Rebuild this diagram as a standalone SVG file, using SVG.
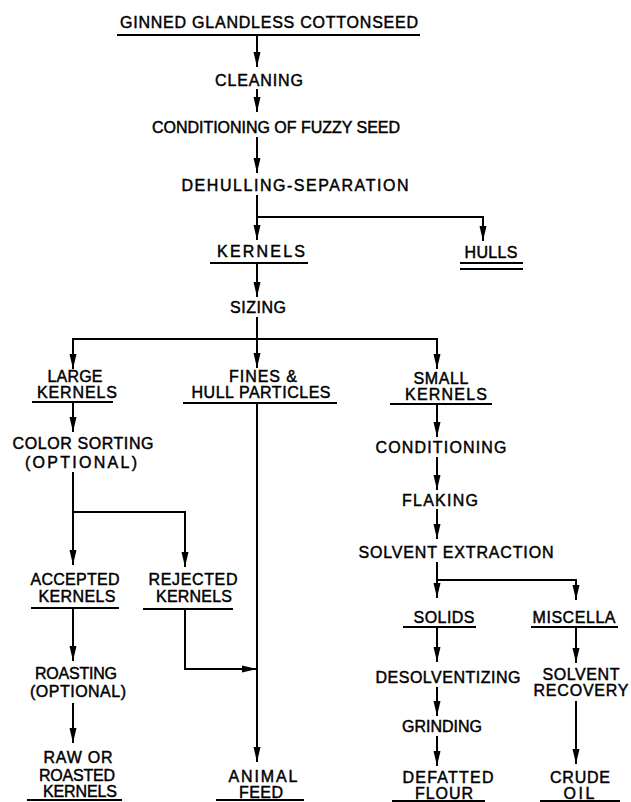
<svg xmlns="http://www.w3.org/2000/svg" width="631" height="802" viewBox="0 0 631 802">
<defs>
<marker id="ah" markerUnits="userSpaceOnUse" markerWidth="16" markerHeight="8" viewBox="0 -4 16 8" refX="15" refY="0" orient="auto">
<path d="M0,-3.5 L15,0 L0,3.5 Z" fill="#000"/>
</marker>
</defs>
<style>
text{font-family:"Liberation Sans",Arial,sans-serif;font-size:16px;fill:#000;stroke:#000;stroke-width:0.45;text-anchor:middle}
.ul{stroke:#000;stroke-width:2;fill:none}
.c path{stroke:#000;stroke-width:2;fill:none}
.a{marker-end:url(#ah)}
</style>
<rect width="631" height="802" fill="#fff"/>
<g id="n_ginned"><text x="269" y="28" textLength="298" lengthAdjust="spacing">GINNED GLANDLESS COTTONSEED</text><path class="ul" d="M117,35 H420"/></g>
<g id="n_cleaning"><text x="259" y="86" textLength="88" lengthAdjust="spacing">CLEANING</text></g>
<g id="n_conditioning_fuzzy"><text x="276" y="133" textLength="248" lengthAdjust="spacing">CONDITIONING OF FUZZY SEED</text></g>
<g id="n_dehulling"><text x="295" y="191" textLength="227" lengthAdjust="spacing">DEHULLING-SEPARATION</text></g>
<g id="n_kernels"><text x="261" y="257" textLength="88" lengthAdjust="spacing">KERNELS</text><path class="ul" d="M210,263 H308"/></g>
<g id="n_hulls"><text x="491" y="258" textLength="53" lengthAdjust="spacing">HULLS</text><path class="ul" d="M460,263 H523 M460,269 H523"/></g>
<g id="n_sizing"><text x="258" y="313" textLength="56" lengthAdjust="spacing">SIZING</text></g>
<g id="n_large"><text x="75" y="382" textLength="55" lengthAdjust="spacing">LARGE</text><text x="77" y="398" textLength="80" lengthAdjust="spacing">KERNELS</text><path class="ul" d="M32,402 H113"/></g>
<g id="n_fines"><text x="263" y="382" textLength="68" lengthAdjust="spacing">FINES &amp;</text><text x="261" y="398" textLength="139" lengthAdjust="spacing">HULL PARTICLES</text><path class="ul" d="M183,403 H337"/></g>
<g id="n_small"><text x="441" y="384" textLength="55" lengthAdjust="spacing">SMALL</text><text x="446" y="400" textLength="82" lengthAdjust="spacing">KERNELS</text><path class="ul" d="M390,404 H492"/></g>
<g id="n_color"><text x="83" y="449" textLength="141" lengthAdjust="spacing">COLOR SORTING</text><text x="81" y="468" textLength="112" lengthAdjust="spacing">(OPTIONAL)</text></g>
<g id="n_accepted"><text x="75" y="585" textLength="89" lengthAdjust="spacing">ACCEPTED</text><text x="77" y="602" textLength="77" lengthAdjust="spacing">KERNELS</text><path class="ul" d="M31,608 H119"/></g>
<g id="n_rejected"><text x="193" y="585" textLength="89" lengthAdjust="spacing">REJECTED</text><text x="194" y="602" textLength="76" lengthAdjust="spacing">KERNELS</text><path class="ul" d="M143,609 H233"/></g>
<g id="n_roasting"><text x="76" y="679" textLength="82" lengthAdjust="spacing">ROASTING</text><text x="78" y="697" textLength="96" lengthAdjust="spacing">(OPTIONAL)</text></g>
<g id="n_raw"><text x="78" y="763" textLength="69" lengthAdjust="spacing">RAW OR</text><text x="77" y="781" textLength="76" lengthAdjust="spacing">ROASTED</text><text x="80" y="797" textLength="74" lengthAdjust="spacing">KERNELS</text><path class="ul" d="M27,800 H122"/></g>
<g id="n_animal"><text x="263" y="782" textLength="69" lengthAdjust="spacing">ANIMAL</text><text x="261" y="798" textLength="44" lengthAdjust="spacing">FEED</text><path class="ul" d="M216,800 H304"/></g>
<g id="n_conditioning"><text x="441" y="453" textLength="131" lengthAdjust="spacing">CONDITIONING</text></g>
<g id="n_flaking"><text x="440" y="506" textLength="76" lengthAdjust="spacing">FLAKING</text></g>
<g id="n_solvent_ext"><text x="456" y="558" textLength="195" lengthAdjust="spacing">SOLVENT EXTRACTION</text></g>
<g id="n_solids"><text x="444" y="623" textLength="61" lengthAdjust="spacing">SOLIDS</text><path class="ul" d="M403,627 H476"/></g>
<g id="n_miscella"><text x="574" y="623" textLength="83" lengthAdjust="spacing">MISCELLA</text><path class="ul" d="M531,627 H618"/></g>
<g id="n_desolv"><text x="448" y="683" textLength="145" lengthAdjust="spacing">DESOLVENTIZING</text></g>
<g id="n_grinding"><text x="442" y="732" textLength="80" lengthAdjust="spacing">GRINDING</text></g>
<g id="n_defatted"><text x="448" y="783" textLength="91" lengthAdjust="spacing">DEFATTED</text><text x="444" y="799" textLength="58" lengthAdjust="spacing">FLOUR</text><path class="ul" d="M392,801 H485"/></g>
<g id="n_recovery"><text x="581" y="680" textLength="77" lengthAdjust="spacing">SOLVENT</text><text x="581" y="696" textLength="95" lengthAdjust="spacing">RECOVERY</text></g>
<g id="n_crude"><text x="580" y="783" textLength="60" lengthAdjust="spacing">CRUDE</text><text x="579" y="799" textLength="31" lengthAdjust="spacing">OIL</text><path class="ul" d="M540,801 H620"/></g>
<g id="connectors" class="c">
<path class="a" d="M257,35 V67"/>
<path class="a" d="M257,89 V112"/>
<path class="a" d="M257,137 V173"/>
<path class="a" d="M257,195 V240"/>
<path class="a" d="M257,217 H483 V241"/>
<path class="a" d="M257,263 V297"/>
<path class="a" d="M257,317 V368"/>
<path class="a" d="M257,339 H73 V369"/>
<path class="a" d="M257,339 H437 V369"/>
<path class="a" d="M73,402 V432"/>
<path class="a" d="M73,472 V565"/>
<path class="a" d="M73,512 H185 V567"/>
<path class="a" d="M73,608 V661"/>
<path class="a" d="M73,703 V743"/>
<path class="a" d="M185,609 V669 H257"/>
<path class="a" d="M257,403 V762"/>
<path class="a" d="M437,404 V437"/>
<path class="a" d="M437,457 V490"/>
<path class="a" d="M437,509 V539"/>
<path class="a" d="M437,562 V598"/>
<path class="a" d="M437,580 H576 V600"/>
<path class="a" d="M437,627 V662"/>
<path class="a" d="M437,687 V716"/>
<path class="a" d="M437,736 V766"/>
<path class="a" d="M576,627 V663"/>
<path class="a" d="M576,701 V764"/>
</g>
</svg>
